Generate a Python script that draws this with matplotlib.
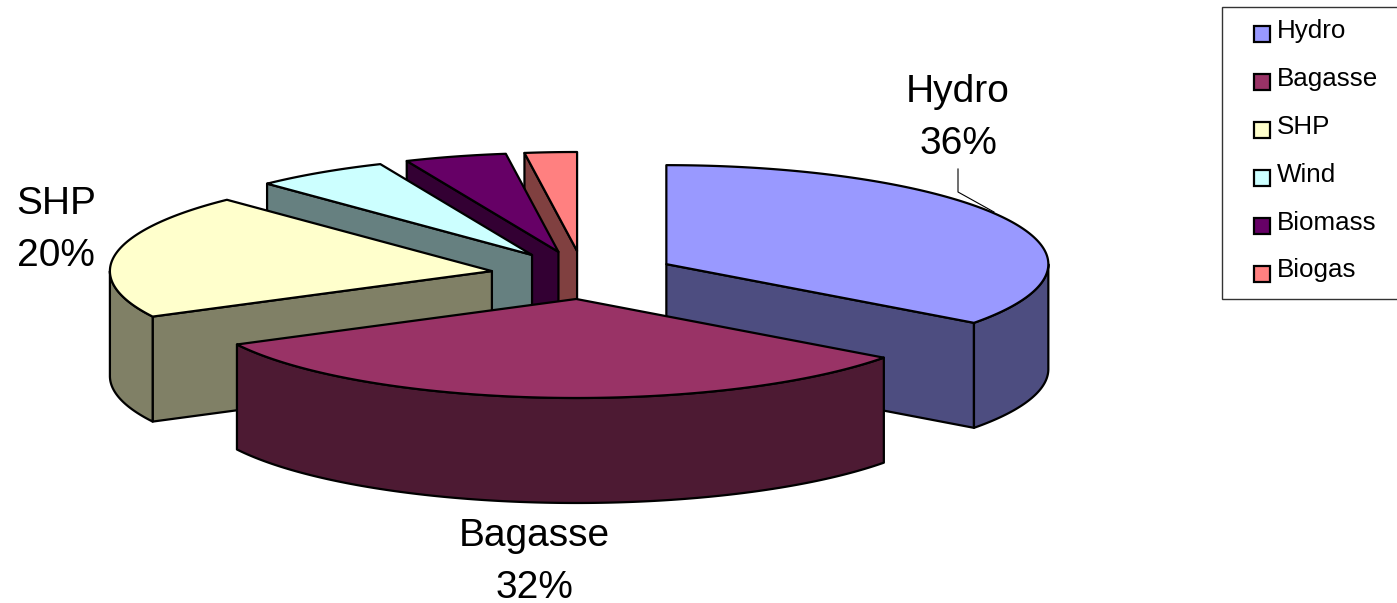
import numpy as np
import matplotlib
matplotlib.use('Agg')
import matplotlib.pyplot as plt
from matplotlib.patches import Polygon, Rectangle

plt.rcParams['font.family'] = ['Liberation Sans', 'DejaVu Sans']

# Datos
categorias = ['Hydro', 'Bagasse', 'SHP', 'Wind', 'Biomass', 'Biogas']
valores = [35.1, 32.3, 20.4, 5.7, 4.3, 2.2]
colores = ['#9999FF', '#993366', '#FFFFCC', '#CCFFFF', '#660066', '#FF8080']
oscuros = ['#4D4D80', '#4D1A33', '#808066', '#668080', '#330033', '#804040']
etiquetas = {'Hydro': '36%', 'Bagasse': '32%', 'SHP': '20%'}

# Geometria del pastel en pixeles
CX, CY = 583.5, 275
RX, RY = 382, 99
ALTO = 105
EXPLOSION = 0.243
INICIO = 0.0

fig = plt.figure(figsize=(13.97, 6.03), dpi=100)
ax = fig.add_axes([0, 0, 1, 1])
ax.set_xlim(0, 1397)
ax.set_ylim(603, 0)
ax.axis('off')


def punto(ang, cx, cy, r=1.0):
    a = np.radians(ang)
    return cx + r * RX * np.sin(a), cy - r * RY * np.cos(a)


def arco(a1, a2, cx, cy):
    angs = np.linspace(a1, a2, max(int(abs(a2 - a1) * 2), 2))
    x, y = punto(angs, cx, cy)
    return np.column_stack((x, y))


def pared(pts, color, z):
    # extruye una linea hacia abajo
    pts = np.asarray(pts)
    abajo = pts[::-1] + [0, ALTO]
    ax.add_patch(Polygon(np.vstack((pts, abajo)), closed=True, fc=color, ec='black', lw=1.6, joinstyle='round', zorder=z))


# Angulos de cada porcion
total = sum(valores)
fronteras = INICIO + np.concatenate(([0], np.cumsum(valores))) / total * 360
porciones = []
for i in range(len(valores)):
    a1, a2 = fronteras[i], fronteras[i + 1]
    media = (a1 + a2) / 2
    cx, cy = punto(media, CX, CY, EXPLOSION)
    porciones.append((i, a1, a2, cx, cy))

# Orden de dibujo: de atras hacia adelante
orden = [5, 4, 3, 2, 0, 1]
z = 2
for i in orden:
    _, a1, a2, cx, cy = porciones[i]
    if np.sin(np.radians(a1)) < -1e-6:
        pared([(cx, cy), punto(a1, cx, cy)], oscuros[i], z)
    if np.sin(np.radians(a2)) > 1e-6:
        pared([(cx, cy), punto(a2, cx, cy)], oscuros[i], z)
    # borde exterior visible (parte frontal)
    b1, b2 = max(a1, 90), min(a2, 270)
    if b2 > b1:
        pared(arco(b1, b2, cx, cy), oscuros[i], z)
    cara = np.vstack(([(cx, cy)], arco(a1, a2, cx, cy)))
    ax.add_patch(Polygon(cara, closed=True, fc=colores[i], ec='black', lw=1.6, joinstyle='round', zorder=z + 0.5))
    z += 1

# Etiquetas de datos
pos_etiquetas = {'Hydro': (958, 118), 'Bagasse': (534, 562), 'SHP': (56, 230)}
for nombre, (x, y) in pos_etiquetas.items():
    ax.text(x, y, nombre + '\n' + etiquetas[nombre], ha='center', va='center', fontsize=28,
            linespacing=1.54, color='black', zorder=20)

# Linea guia de Hydro
ax.plot([958, 958, 994], [169, 192, 212], color='black', lw=0.8, zorder=20)

# Leyenda
ax.add_patch(Rectangle((1222, 7), 180, 292, fc='white', ec='#333333', lw=1.0, zorder=1))
for i, nombre in enumerate(categorias):
    y = 34 + i * 47.9
    ax.add_patch(Rectangle((1254, y - 8), 16, 16, fc=colores[i], ec='black', lw=1.6, zorder=21))
    ax.text(1277, y - 3, nombre, ha='left', va='center', fontsize=18.7, color='black', zorder=21)

fig.savefig('out.png', dpi=100, facecolor='white')
